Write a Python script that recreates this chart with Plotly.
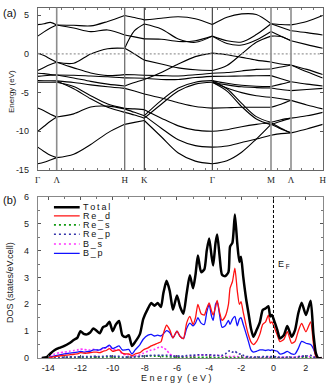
import plotly.graph_objects as go

# ---------------- Band structure (panel a) ----------------
k_nodes = [0.0, 19.0, 87.0, 106.6, 174.6, 233.3, 253.3, 285.0]
k_labels = ["Γ", "Λ", "H", "K", "Γ", "M", "Λ", "H"]
energy_ticks = [5, 0, -5, -10, -15]
energy_ticktext = ["5", "0", "-5", "-10", "-15"]

# energies (eV) sampled at evenly spaced points along each path segment
bands_G_A = [
    [3.79, 3.9, 4.08, 3.74], [2.3, 2.85, 3.35, 3.74], [0.1, -0.2, -0.65, -1.08],
    [-2.15, -1.75, -1.38, -1.08], [-2.5, -2.55, -2.65, -2.72], [-2.9, -2.82, -2.76, -2.72],
    [-3.45, -3.46, -3.47, -3.48], [-3.66, -3.66, -3.66, -3.66], [-7.0, -7.35, -7.8, -8.15],
    [-10.0, -9.35, -8.7, -8.15], [-12.05, -12.6, -13.1, -13.4], [-14.2, -14.0, -13.7, -13.4],
]
bands_A_H = [
    [3.74, 3.7, 3.62, 4.2, 4.96], [3.74, 3.35, 2.88, 3.1, 2.45], [-1.08, -1.2, 0.0, 0.68, 0.73],
    [-1.08, -1.8, -2.46, -2.8, -2.67], [-2.72, -2.75, -2.85, -2.95, -3.1],
    [-2.72, -3.1, -3.55, -3.9, -4.15], [-3.48, -3.7, -4.0, -4.25, -4.45],
    [-3.66, -4.22, -5.39, -6.47, -7.03], [-3.5, -4.5, -5.8, -6.9, -7.55],
    [-8.15, -7.75, -6.85, -6.75, -7.1], [-13.4, -12.95, -11.7, -10.2, -9.1],
]
bands_H_K = [
    [4.96, 4.7, 4.4], [2.45, 2.2, 1.95], [0.73, 3.0, 3.87], [0.73, 0.0, -0.8],
    [-2.67, -2.7, -2.75], [-3.1, -3.12, -3.15], [-4.15, -3.7, -3.3], [-4.45, -4.8, -5.17],
    [-7.03, -7.1, -7.2], [-7.1, -7.55, -7.98], [-7.55, -7.9, -8.3], [-9.1, -8.85, -8.6],
]
bands_K_G = [
    [4.4, 4.62, 4.8, 4.55, 3.79], [3.87, 3.23, 1.94, 1.5, 2.3], [1.95, 1.9, 1.6, 1.7, 2.3],
    [-0.8, -1.3, -1.8, -2.05, -2.15], [-3.3, -2.4, -1.3, -0.35, 0.1],
    [-2.75, -2.8, -2.85, -2.7, -2.5], [-3.15, -3.3, -3.3, -3.05, -2.9],
    [-5.17, -5.7, -6.3, -6.8, -7.0], [-7.98, -6.0, -4.4, -3.65, -3.45],
    [-8.3, -6.5, -4.8, -3.9, -3.66], [-7.2, -8.3, -9.3, -9.85, -10.0],
    [-7.98, -9.6, -11.1, -11.85, -12.05], [-8.6, -10.7, -12.8, -13.85, -14.2],
]
bands_G_M = [
    [3.79, 4.74, 5.17, 5.09, 3.9], [2.3, 1.7, 1.55, 2.5, 3.9], [2.3, 1.35, 1.15, 1.8, 2.9],
    [0.1, -0.1, -0.45, -0.8, -1.05], [-2.15, -1.5, 0.0, 1.5, 2.3],
    [-2.5, -2.4, -2.2, -2.0, -1.94], [-2.9, -2.88, -2.85, -2.82, -2.8],
    [-3.45, -3.8, -4.05, -4.18, -4.22], [-3.66, -4.0, -4.25, -4.35, -4.4],
    [-3.66, -4.4, -5.0, -5.4, -5.6], [-3.45, -4.5, -6.4, -8.1, -8.84],
    [-3.66, -4.8, -6.8, -8.4, -9.14], [-7.0, -6.95, -6.9, -6.9, -6.9],
    [-10.0, -9.8, -9.4, -9.1, -8.9], [-12.05, -11.9, -11.45, -11.0, -10.5],
    [-14.2, -13.8, -12.7, -11.0, -9.1],
]
bands_M_A = [
    [3.9, 3.8, 3.75], [3.9, 3.45, 3.0], [2.9, 2.3, 1.7], [2.3, 2.25, 1.7],
    [-1.05, -1.3, -1.42], [-1.94, -1.7, -1.42], [-2.8, -3.2, -3.6], [-4.22, -3.9, -3.6],
    [-4.4, -4.6, -4.74], [-5.6, -5.8, -6.0], [-6.9, -6.5, -6.0], [-8.84, -8.5, -8.3],
    [-9.14, -8.7, -8.3], [-8.9, -9.6, -10.2], [-10.5, -10.3, -10.2], [-9.1, -9.7, -10.2],
]
bands_A_H2 = [
    [3.75, 4.2, 4.96], [3.0, 2.75, 2.45], [1.7, 1.2, 0.73], [-1.42, -2.0, -2.67],
    [-1.42, -2.3, -3.1], [-3.6, -3.9, -4.15], [-4.74, -4.6, -4.45], [-6.0, -6.6, -7.1],
    [-8.3, -8.0, -7.55], [-10.2, -9.7, -9.1],
]
segments = [bands_G_A, bands_A_H, bands_H_K, bands_K_G, bands_G_M, bands_M_A, bands_A_H2]

# ---------------- DOS (panel b) ----------------
dos_energy = [-14.4, -14.1, -13.9, -13.6, -13.3, -13.0, -12.7, -12.4, -12.2, -12.0,
              -11.8, -11.6, -11.4, -11.2, -11.0, -10.8, -10.6, -10.4, -10.2, -10.0,
              -9.8, -9.6, -9.4, -9.2, -9.0, -8.8, -8.6, -8.3, -8.1, -7.8,
              -7.6, -7.4, -7.2, -7.0, -6.85, -6.65, -6.45, -6.25, -6.0, -5.8,
              -5.6, -5.4, -5.2, -5.0, -4.85, -4.7, -4.5, -4.3, -4.15, -4.0,
              -3.85, -3.75, -3.6, -3.5, -3.35, -3.2, -3.0, -2.8, -2.7, -2.55,
              -2.4, -2.25, -2.12, -2.02, -1.88, -1.7, -1.55, -1.4, -1.25, -1.05,
              -0.84, -0.67, -0.49, -0.32, -0.2, -0.1, 0.03, 0.24, 0.4, 0.65,
              0.86, 1.13, 1.34, 1.54, 1.75, 2.02, 2.31, 2.48, 2.64, 2.78, 3.0]
dos_total = [0, 0.03, 0.15, 0.3, 0.38, 0.45, 0.55, 0.68, 0.75, 1.0,
             0.9, 0.88, 0.95, 1.1, 1.02, 0.92, 1.15, 1.2, 1.35, 1.0,
             1.25, 1.38, 0.85, 0.78, 0.85, 0.45, 0.6, 0.9, 1.45, 1.85,
             2.05, 1.95, 2.05, 1.9, 2.4, 2.88, 2.5, 1.8, 2.33, 1.9,
             1.65, 2.4, 3.08, 2.6, 3.1, 3.82, 3.2, 3.3, 4.0, 4.45,
             3.8, 3.45, 4.3, 4.6, 3.8, 3.1, 3.05, 3.2, 4.15, 4.3,
             5.35, 4.26, 3.58, 3.77, 3.02, 2.2, 1.66, 1.1, 0.79, 1.04,
             1.35, 1.79, 1.85, 1.93, 1.55, 1.6, 1.41, 1.04, 0.73, 0.86,
             1.19, 0.79, 1.04, 1.66, 2.06, 1.6, 2.13, 0.92, 0.17, 0.0, 0.0]
dos_re_d = [0, 0, 0.02, 0.05, 0.08, 0.1, 0.12, 0.14, 0.15, 0.2,
            0.18, 0.18, 0.2, 0.22, 0.22, 0.2, 0.25, 0.28, 0.35, 0.25,
            0.28, 0.3, 0.18, 0.15, 0.15, 0.08, 0.15, 0.2, 0.3, 0.38,
            0.45, 0.5, 0.55, 0.6, 0.9, 1.22, 1.05, 0.75, 1.0, 0.8,
            0.72, 1.3, 1.55, 1.25, 1.5, 2.0, 1.65, 1.6, 1.85, 2.05,
            1.75, 1.6, 1.9, 2.15, 1.7, 1.4, 1.55, 2.0, 2.6, 2.85,
            3.35, 2.5, 2.0, 2.1, 1.7, 1.2, 0.85, 0.6, 0.5, 0.62,
            0.9, 1.25, 1.35, 1.6, 1.3, 1.35, 1.17, 0.85, 0.61, 0.7,
            0.98, 0.55, 0.62, 1.0, 1.29, 0.98, 1.35, 0.55, 0.05, 0.0, 0.0]
dos_re_s = [0, 0.0, 0.01, 0.01, 0.02, 0.02, 0.02, 0.02, 0.02, 0.03,
            0.03, 0.03, 0.03, 0.03, 0.03, 0.03, 0.03, 0.04, 0.04, 0.03,
            0.03, 0.03, 0.02, 0.02, 0.02, 0.02, 0.04, 0.05, 0.06, 0.07,
            0.08, 0.07, 0.07, 0.06, 0.06, 0.05, 0.04, 0.03, 0.03, 0.03,
            0.03, 0.03, 0.03, 0.03, 0.03, 0.03, 0.03, 0.03, 0.03, 0.03,
            0.03, 0.02, 0.02, 0.02, 0.02, 0.02, 0.02, 0.02, 0.02, 0.02,
            0.02, 0.02, 0.02, 0.02, 0.02, 0.02, 0.01, 0.01, 0.01, 0.01,
            0.01, 0.01, 0.01, 0.01, 0.01, 0.01, 0.01, 0.01, 0.01, 0.01,
            0.01, 0.01, 0.01, 0.01, 0.02, 0.02, 0.02, 0.01, 0.0, 0.0, 0.0]
dos_re_p = [0, 0.0, 0.01, 0.02, 0.03, 0.03, 0.04, 0.04, 0.04, 0.05,
            0.05, 0.05, 0.05, 0.06, 0.06, 0.05, 0.06, 0.07, 0.08, 0.06,
            0.06, 0.06, 0.04, 0.04, 0.04, 0.03, 0.05, 0.06, 0.08, 0.09,
            0.1, 0.1, 0.1, 0.1, 0.1, 0.1, 0.09, 0.07, 0.08, 0.07,
            0.07, 0.09, 0.1, 0.1, 0.11, 0.12, 0.11, 0.11, 0.12, 0.12,
            0.11, 0.1, 0.1, 0.1, 0.09, 0.1, 0.15, 0.25, 0.27, 0.22,
            0.25, 0.18, 0.15, 0.15, 0.1, 0.06, 0.05, 0.04, 0.04, 0.04,
            0.04, 0.05, 0.05, 0.05, 0.05, 0.05, 0.05, 0.04, 0.03, 0.03,
            0.04, 0.03, 0.03, 0.05, 0.07, 0.07, 0.1, 0.05, 0.01, 0.0, 0.0]
dos_b_s = [0, 0.02, 0.08, 0.15, 0.2, 0.22, 0.25, 0.28, 0.3, 0.33,
           0.32, 0.3, 0.3, 0.32, 0.3, 0.28, 0.35, 0.38, 0.45, 0.3,
           0.32, 0.3, 0.15, 0.12, 0.12, 0.05, 0.08, 0.12, 0.18, 0.25,
           0.3, 0.32, 0.38, 0.42, 0.38, 0.3, 0.15, 0.08, 0.05, 0.04,
           0.04, 0.05, 0.06, 0.06, 0.08, 0.1, 0.12, 0.12, 0.1, 0.12,
           0.1, 0.08, 0.1, 0.1, 0.08, 0.06, 0.06, 0.05, 0.05, 0.05,
           0.06, 0.05, 0.04, 0.04, 0.03, 0.03, 0.02, 0.02, 0.02, 0.02,
           0.02, 0.02, 0.02, 0.03, 0.02, 0.02, 0.02, 0.02, 0.02, 0.03,
           0.03, 0.03, 0.03, 0.04, 0.05, 0.05, 0.05, 0.03, 0.01, 0.0, 0.0]
dos_b_p = [0, 0.01, 0.03, 0.08, 0.12, 0.15, 0.18, 0.2, 0.22, 0.25,
           0.22, 0.24, 0.25, 0.3, 0.3, 0.3, 0.38, 0.4, 0.48, 0.35,
           0.4, 0.45, 0.3, 0.3, 0.32, 0.15, 0.3, 0.5, 0.7, 0.85,
           0.88, 0.82, 0.85, 0.82, 0.9, 1.02, 0.95, 0.75, 1.0, 0.8,
           0.72, 1.1, 1.3, 1.2, 1.3, 1.5, 1.3, 1.25, 1.7, 2.0,
           1.55, 1.4, 2.0, 2.1, 1.6, 1.15, 1.2, 1.4, 1.25, 1.45,
           1.55, 1.2, 1.45, 1.5, 1.25, 0.9, 0.6, 0.3, 0.22, 0.25,
           0.3, 0.3, 0.28, 0.3, 0.28, 0.3, 0.28, 0.25, 0.15, 0.18,
           0.25, 0.15, 0.15, 0.35, 0.62, 0.55, 0.5, 0.35, 0.08, 0.0, 0.0]
dos_xticks = [-14, -12, -10, -8, -6, -4, -2, 0, 2]
dos_xticktext = ["-14", "-12", "-10", "-8", "-6", "-4", "-2", "0", "2"]
dos_yticks = [0, 1, 2, 3, 4, 5, 6]
series_names = ["T\u2009o\u2009t\u2009a\u2009l", "R\u2009e\u2009_\u2009d", "R\u2009e\u2009_\u2009s",
                "R\u2009e\u2009_\u2009p", "B\u2009_\u2009s", "B\u2009_\u2009p"]

fig = go.Figure()

# band lines
for bands, (ka, kb) in zip(segments, zip(k_nodes[:-1], k_nodes[1:])):
    xs, ys = [], []
    for b in bands:
        n = len(b)
        xs += [ka + (kb - ka) * j / (n - 1) for j in range(n)] + [None]
        ys += list(b) + [None]
    fig.add_trace(go.Scatter(x=xs, y=ys, mode="lines", xaxis="x", yaxis="y",
                             line=dict(color="black", width=1.1, shape="spline", smoothing=0.9),
                             hoverinfo="skip", showlegend=False))

# DOS curves
dos_series = [
    (dos_b_s, "#ff33ff", 1.6, "2px,2px"),
    (dos_re_s, "#119911", 1.6, "2px,2px"),
    (dos_re_p, "#3333aa", 1.6, "2px,2px"),
    (dos_b_p, "#1111ff", 1.3, "solid"),
    (dos_re_d, "#ff1111", 1.3, "solid"),
    (dos_total, "black", 2.5, "solid"),
]
for vals, col, w, dash in dos_series:
    fig.add_trace(go.Scatter(x=dos_energy, y=vals, mode="lines", xaxis="x2", yaxis="y2",
                             line=dict(color=col, width=w, dash=dash, shape="spline", smoothing=0.6),
                             hoverinfo="skip", showlegend=False))

shapes = []
# vertical lines at high-symmetry points
vl_style = {1: ("#8c8c8c", 1.6), 2: ("#707070", 1.3), 3: ("#222222", 1.0),
            4: ("#222222", 1.0), 5: ("#8c8c8c", 1.6), 6: ("#8c8c8c", 1.6)}
for i, (c, w) in vl_style.items():
    shapes.append(dict(type="line", xref="x", yref="y", x0=k_nodes[i], x1=k_nodes[i],
                       y0=-15, y1=6, line=dict(color=c, width=w)))
# Fermi level (panel a)
shapes.append(dict(type="line", xref="x", yref="y", x0=k_nodes[0], x1=k_nodes[-1], y0=0, y1=0,
                   line=dict(color="#999999", width=1.2, dash="2px,2px")))
# Fermi level (panel b)
shapes.append(dict(type="line", xref="x2", yref="y2", x0=0, x1=0, y0=0, y1=6,
                   line=dict(color="black", width=1, dash="3px,2px")))

# legend (manual)
legend_rows = [5.62, 5.30, 4.96, 4.61, 4.25, 3.90]
annotations = []
leg_order = [dos_series[5], dos_series[4], dos_series[1], dos_series[2], dos_series[0], dos_series[3]]
for (vals, col, w, dash), yrow, name in zip(leg_order, legend_rows, series_names):
    shapes.append(dict(type="line", xref="x2", yref="y2", x0=-13.65, x1=-12.05, y0=yrow, y1=yrow,
                       line=dict(color=col, width=w if w < 2 else 2.4,
                                 dash="2px,3px" if dash != "solid" else "solid")))
    annotations.append(dict(xref="x2", yref="y2", x=-11.95, y=yrow, text=name, showarrow=False,
                            xanchor="left", yanchor="middle", font=dict(size=9, color="#111")))

annotations += [
    dict(xref="x2", yref="y2", x=0.15, y=3.5, text="E\u2009<sub>F</sub>", showarrow=False,
         xanchor="left", yanchor="middle", font=dict(size=9, color="#111")),
    dict(xref="paper", yref="paper", x=9 / 329, y=1 - 13 / 385, text="(a)", showarrow=False,
         xanchor="center", yanchor="middle", font=dict(size=11, color="#111")),
    dict(xref="paper", yref="paper", x=9 / 329, y=1 - 200 / 385, text="(b)", showarrow=False,
         xanchor="center", yanchor="middle", font=dict(size=11, color="#111")),
    dict(xref="paper", yref="paper", x=12 / 329, y=1 - 92 / 385, text="Energy (eV)", showarrow=False,
         textangle=-90, xanchor="center", yanchor="middle", font=dict(size=8, color="#222")),
    dict(xref="paper", yref="paper", x=10 / 329, y=1 - 283 / 385, text="DOS (states/eV.cell)",
         showarrow=False, textangle=-90, xanchor="center", yanchor="middle",
         font=dict(size=9, color="#222")),
    dict(xref="paper", yref="paper", x=176 / 329, y=1 - 378 / 385, text="E n e r g y  ( e V )",
         showarrow=False, xanchor="center", yanchor="middle", font=dict(size=9, color="#222")),
]

axis_common = dict(showgrid=False, zeroline=False, showline=True, mirror="allticks",
                   tickcolor="#555", ticklen=3, tickwidth=1, ticks="inside", automargin=False,
                   tickfont=dict(size=9, color="#222"))

fig.update_layout(
    width=329, height=385, margin=dict(l=0, r=0, t=0, b=0, autoexpand=False),
    plot_bgcolor="white", paper_bgcolor="white", showlegend=False,
    font=dict(family="Liberation Sans, Arial, sans-serif", size=9, color="#222"),
    xaxis=dict(axis_common, domain=[37.7 / 329, 322.7 / 329], range=[k_nodes[0], k_nodes[-1]],
               tickmode="array", tickvals=k_nodes, ticktext=k_labels, ticks="",
               tickfont=dict(family="Liberation Serif, Times New Roman, serif", size=9, color="#222"),
               linecolor="#666", anchor="y", ticklabelstandoff=1,
               minor=dict(tickmode="linear", tick0=0, dtick=12, ticks="inside", ticklen=2,
                          tickcolor="#777")),
    yaxis=dict(axis_common, domain=[1 - 170 / 385, 1 - 7.5 / 385], range=[-15, 6],
               tickmode="array", tickvals=energy_ticks, ticktext=energy_ticktext,
               linecolor="#666", anchor="x", ticklabelstandoff=6),
    xaxis2=dict(axis_common, domain=[37.7 / 329, 322.7 / 329], range=[-14.66, 3.06],
                tickmode="array", tickvals=dos_xticks, ticktext=dos_xticktext,
                linecolor="#888", anchor="y2", ticklabelstandoff=1,
                minor=dict(tickmode="linear", tick0=0, dtick=1, ticks="inside", ticklen=2,
                           tickcolor="#777")),
    yaxis2=dict(axis_common, domain=[1 - 358 / 385, 1 - 197 / 385], range=[0, 6],
                tickmode="array", tickvals=dos_yticks,
                linecolor="#888", anchor="x2", ticklabelstandoff=6,
                minor=dict(tickmode="linear", tick0=0, dtick=0.5, ticks="inside", ticklen=2,
                           tickcolor="#777")),
    shapes=shapes, annotations=annotations,
)

fig.write_html("out.html", config={"displayModeBar": False, "staticPlot": True},
               post_script="document.body.style.margin='0px';document.body.style.overflow='hidden';")
